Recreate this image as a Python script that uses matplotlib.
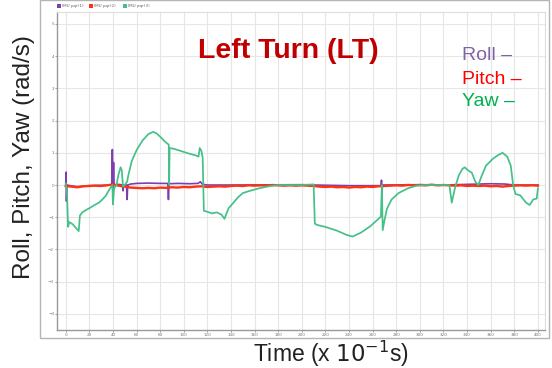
import matplotlib
matplotlib.use("Agg")
import matplotlib.pyplot as plt
from matplotlib.patches import Rectangle

# Roll rate (IMU pqr(1)) breakpoints
roll_t = [0, 0.3, 0.6, 1, 5, 10, 20, 30, 39, 39.5, 40, 40.5, 41, 45, 48, 48.5, 49,
          51.5, 52, 52.5, 55, 60, 70, 80, 86.5, 87, 87.5, 95, 105, 112, 114, 116,
          120, 140, 200, 210, 240, 267, 267.5, 268, 268.5, 300, 320, 340, 360,
          372, 380, 400]
roll_v = [0.0, 0.4, -0.5, 0.0, -0.03, -0.05, -0.02, -0.01, 0.0, 1.1, -0.1, 0.7, 0.0,
          0.02, 0.0, -0.18, 0.0, 0.0, -0.45, 0.0, 0.03, 0.05, 0.06, 0.05, 0.05,
          -0.45, 0.04, 0.05, 0.04, 0.05, 0.1, 0.02, 0.0, 0.0, 0.01, 0.0, -0.02,
          -0.02, 0.15, -0.15, 0.0, 0.01, 0.0, 0.02, 0.04, 0.03, 0.0, 0.0]

# Pitch rate (IMU pqr(2)) sampled every 5 units
pitch_t = list(range(0, 401, 5))
pitch_v = [-0.03, -0.05, -0.07, -0.04, -0.03, -0.02, -0.03, -0.01, 0.02, -0.02,
           -0.05, -0.08, -0.09, -0.10, -0.09, -0.10, -0.08, -0.09, -0.07, -0.08,
           -0.06, -0.07, -0.05, -0.04, -0.06, -0.05, -0.04, -0.05, -0.03, -0.02,
           -0.03, -0.01, -0.02, -0.01, -0.02, 0.0, -0.01, -0.02, -0.01, -0.02,
           -0.01, -0.02, -0.03, -0.05, -0.06, -0.05, -0.07, -0.06, -0.08, -0.06,
           -0.07, -0.05, -0.06, -0.04, -0.03, -0.02, -0.01, -0.02, 0.0, -0.01,
           0.0, -0.01, 0.01, -0.01, 0.0, -0.01, -0.02, -0.01, -0.03, -0.02,
           -0.03, -0.02, -0.04, -0.03, -0.05, -0.03, -0.02, -0.01, -0.02, -0.01,
           -0.02]

# Yaw rate (IMU pqr(3)) breakpoints
yaw_t = [0, 1, 2, 3, 6, 9, 11, 12, 14, 17, 20, 24, 28, 31, 34, 36, 38, 39.5, 40,
         41, 43, 44.5, 46.5, 47.5, 48.5, 50, 52, 53, 56, 60, 65, 70, 74, 77, 80,
         84, 87.3, 87.6, 88, 92, 98, 104, 110, 112.5, 113.5, 115, 116, 117, 119,
         124, 128, 132, 134.5, 136, 138, 142, 146, 150, 156, 164, 172, 180, 200,
         210, 211, 213, 220, 230, 238, 243, 250, 258, 264, 267, 267.8, 268.5,
         270, 272, 276, 282, 290, 297, 305, 325, 327, 330, 333, 336, 338, 341,
         344, 347, 349.5, 352, 356, 362, 366, 370, 374, 377, 379, 381, 385, 390,
         393, 396, 399, 400]
yaw_v = [0.05, -0.2, -1.3, -1.15, -1.22, -1.35, -1.43, -0.95, -0.85, -0.78, -0.72,
         -0.63, -0.55, -0.45, -0.33, -0.2, -0.08, 0.0, -0.6, -0.1, 0.0, 0.3, 0.55,
         0.45, -0.05, 0.0, 0.1, 0.3, 0.75, 1.08, 1.38, 1.58, 1.65, 1.6, 1.5, 1.35,
         1.25, 0.0, 1.15, 1.12, 1.05, 0.98, 0.92, 0.88, 1.15, 1.05, 0.85, -0.8,
         -0.82, -0.88, -0.85, -0.92, -1.05, -0.9, -0.72, -0.55, -0.38, -0.25,
         -0.18, -0.1, -0.04, 0.0, 0.0, 0.02, -1.2, -1.24, -1.3, -1.42, -1.55,
         -1.6, -1.48, -1.28, -1.08, -0.98, 0.0, -1.4, -1.1, -0.75, -0.45, -0.25,
         -0.1, -0.02, 0.0, 0.0, -0.55, -0.05, 0.3, 0.5, 0.55, 0.45, 0.38, 0.1,
         0.0, 0.25, 0.6, 0.82, 0.92, 1.0, 0.88, 0.6, 0.0, -0.28, -0.32, -0.55,
         -0.62, -0.45, -0.42, -0.1]

x_ticks = list(range(0, 401, 20))
y_ticks = [-4, -3, -2, -1, 0, 1, 2, 3, 4, 5]
series_names = ["IMU pqr(1)", "IMU pqr(2)", "IMU pqr(3)"]
line_colors = ["#7b3fb0", "#ff3311", "#45c088"]

W, H = 552, 368
fig = plt.figure(figsize=(W / 100, H / 100), dpi=100)
fig.patch.set_facecolor("white")

def fx(px):
    return px / W

def fy(py):
    return 1 - py / H

# outer chart panel
fig.patches.append(Rectangle((fx(40), fy(338)), fx(549) - fx(40), fy(0) - fy(338),
                             transform=fig.transFigure, facecolor="white",
                             edgecolor="#b5b5b5", linewidth=1.0, zorder=-5))

ax = fig.add_axes([fx(57), fy(330), fx(545) - fx(57), fy(12) - fy(330)])
ax.set_zorder(2)
ax.set_facecolor("white")

ax.plot(roll_t, roll_v, color=line_colors[0], lw=1.2, zorder=3)
ax.plot(pitch_t, pitch_v, color=line_colors[1], lw=1.7, zorder=4)
ax.plot(yaw_t, yaw_v, color=line_colors[2], lw=1.25, zorder=5)

ax.set_xlim(-7.4, 406)
ax.set_ylim(-4.5, 5.37)
ax.set_xticks(x_ticks)
ax.set_yticks(y_ticks)
ax.grid(True, color="#e6e6e6", lw=0.8)
ax.set_axisbelow(True)
ax.tick_params(labelsize=3, colors="#777777", length=1.5, width=0.5, pad=0.6)
for side in ["top", "right"]:
    ax.spines[side].set_color("#dddddd")
    ax.spines[side].set_linewidth(0.8)
for side in ["left", "bottom"]:
    ax.spines[side].set_color("#999999")
    ax.spines[side].set_linewidth(1.0)

# small series legend above the plot
leg_x = [57, 89, 123]
for px, name, c in zip(leg_x, series_names, line_colors):
    fig.patches.append(Rectangle((fx(px), fy(7.5)), fx(3.5), 3.5 / H,
                                 transform=fig.transFigure, facecolor=c,
                                 edgecolor="none", zorder=3))
    fig.text(fx(px + 5), fy(5.5), name, fontsize=3, color="#666666",
             va="center", ha="left")

fig.text(fx(288), fy(51), "Left Turn (LT)", fontsize=20.5, fontweight="bold",
         color="#c00000", family="Liberation Sans", ha="center", va="center",
         zorder=6)

fig.text(fx(24), fy(157), "Roll, Pitch, Yaw (rad/s)", fontsize=17.5, rotation=90,
         color="#222222", family="Liberation Sans", ha="center", va="center")
fig.text(fx(331), fy(353.5), r"Time (x $10^{-1}$s)", fontsize=16.5,
         color="#222222", family="Liberation Sans", ha="center", va="center")

fig.text(fx(462), fy(55), "Roll \u2013", fontsize=14, color="#8064a2",
         family="Liberation Sans", ha="left", va="center", zorder=6)
fig.text(fx(462), fy(79), "Pitch \u2013", fontsize=14, color="#ff0000",
         family="Liberation Sans", ha="left", va="center", zorder=6)
fig.text(fx(462), fy(102), "Yaw \u2013", fontsize=14, color="#00b050",
         family="Liberation Sans", ha="left", va="center", zorder=6)

fig.savefig("out.png", dpi=100)
